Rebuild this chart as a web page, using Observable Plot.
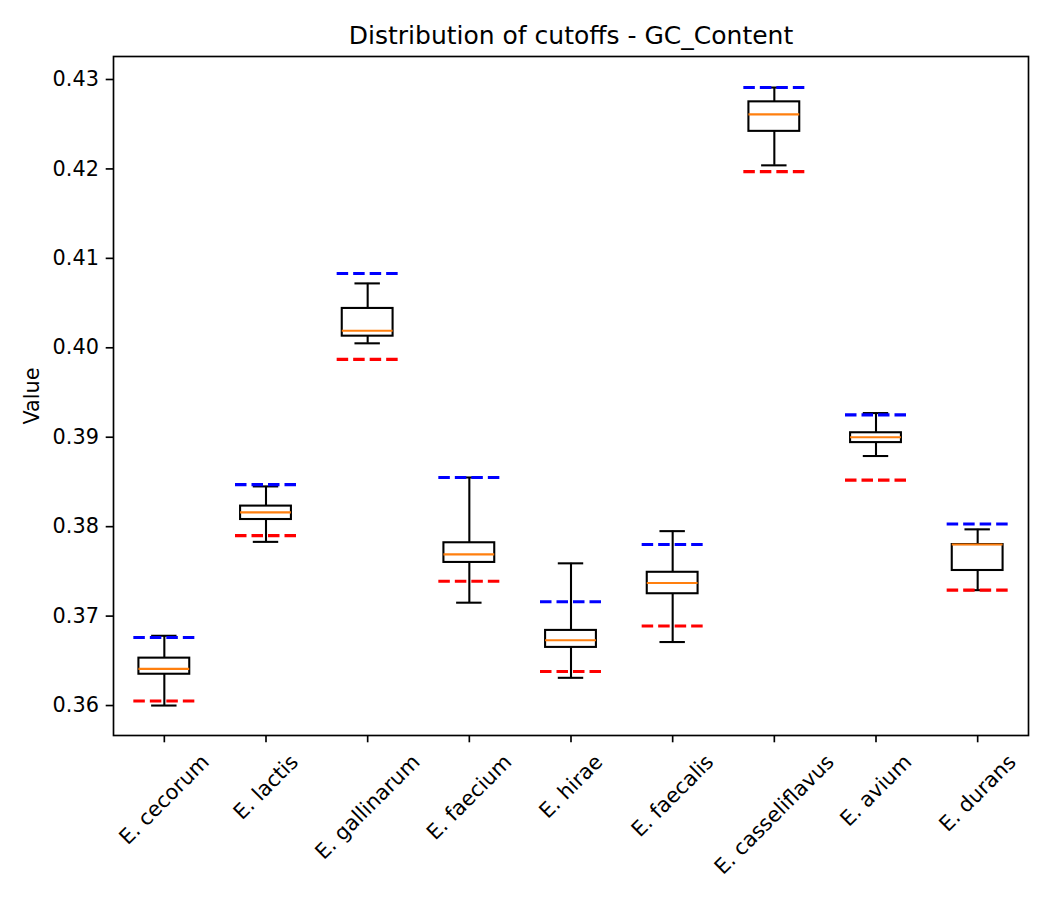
<!DOCTYPE html>
<html><head><meta charset="utf-8">
<script src="https://cdn.jsdelivr.net/npm/d3@7"></script>
<script src="https://cdn.jsdelivr.net/npm/@observablehq/plot@0.6"></script>
<style>body{margin:0;background:#fff;} svg{display:block}</style>
</head><body><div id="chart"></div>
<script>
const categories = ["E. cecorum","E. lactis","E. gallinarum","E. faecium","E. hirae","E. faecalis","E. casseliflavus","E. avium","E. durans"];
const whiskerLow  = [0.3600, 0.3783, 0.4005, 0.3715, 0.3631, 0.3671, 0.4204, 0.3879, 0.3729];
const q1          = [0.3635, 0.3808, 0.4013, 0.3760, 0.3665, 0.3725, 0.4242, 0.3894, 0.3751];
const medians     = [0.3641, 0.3816, 0.4019, 0.3769, 0.3673, 0.3737, 0.4261, 0.3900, 0.3780];
const q3          = [0.3653, 0.3823, 0.4044, 0.3782, 0.3684, 0.3749, 0.4275, 0.3905, 0.3780];
const whiskerHigh = [0.3678, 0.3845, 0.4072, 0.3855, 0.3759, 0.3795, 0.4291, 0.3927, 0.3797];
const upperCutoff = [0.3676, 0.3847, 0.4083, 0.3855, 0.3716, 0.3780, 0.4291, 0.3925, 0.3803];
const lowerCutoff = [0.3605, 0.3790, 0.3987, 0.3739, 0.3638, 0.3689, 0.4197, 0.3852, 0.3729];
const yTicks = [0.36, 0.37, 0.38, 0.39, 0.40, 0.41, 0.42, 0.43];
const titleText = "Distribution of cutoffs - GC_Content";
const yLabel = "Value";

const FS = 20.8;
const ctx = document.createElement("canvas").getContext("2d");
ctx.font = `${FS}px "DejaVu Sans"`;

const rows = categories.map((name, i) => ({
  name, pos: i + 1,
  lo: whiskerLow[i], q1: q1[i], median: medians[i], q3: q3[i], hi: whiskerHigh[i],
  upper: upperCutoff[i], lower: lowerCutoff[i]
}));

const LW = 2.08;
const labelMarks = categories.map((c, i) => {
  const w = ctx.measureText(c).width;
  const h = 24;
  const bb = (w + h) * Math.SQRT1_2;
  return Plot.text([c], {
    x: () => i + 1, frameAnchor: "bottom", dy: 14.6 + bb / 2,
    rotate: -45, textAnchor: "middle", lineAnchor: "middle",
    fontSize: FS, fill: "black"
  });
});

const plot = Plot.plot({
  width: 1050, height: 900,
  marginTop: 56, marginLeft: 113, marginRight: 22, marginBottom: 165,
  style: {fontFamily: "DejaVu Sans", fontSize: FS + "px", background: "white", color: "black"},
  x: {domain: [0.5, 9.5], axis: null},
  y: {domain: [0.35665, 0.43257], axis: null},
  marks: [
    Plot.axisY({ticks: yTicks, tickFormat: d3.format(".2f"), tickSize: 7.3, tickPadding: 7.3, label: null, fontSize: FS, strokeWidth: 1.67}),
    Plot.axisX({ticks: rows.map(d => d.pos), tickFormat: () => "", tickSize: 7.3, label: null, strokeWidth: 1.67}),
    Plot.ruleX(rows, {x: "pos", y1: "q3", y2: "hi", stroke: "black", strokeWidth: LW}),
    Plot.ruleX(rows, {x: "pos", y1: "lo", y2: "q1", stroke: "black", strokeWidth: LW}),
    Plot.ruleY(rows, {y: "hi", x1: d => d.pos - 0.125, x2: d => d.pos + 0.125, stroke: "black", strokeWidth: LW}),
    Plot.ruleY(rows, {y: "lo", x1: d => d.pos - 0.125, x2: d => d.pos + 0.125, stroke: "black", strokeWidth: LW}),
    Plot.rect(rows, {x1: d => d.pos - 0.25, x2: d => d.pos + 0.25, y1: "q1", y2: "q3", fill: "white", stroke: "black", strokeWidth: LW}),
    Plot.ruleY(rows, {y: "median", x1: d => d.pos - 0.25, x2: d => d.pos + 0.25, stroke: "#ff7f0e", strokeWidth: LW}),
    Plot.ruleY(rows, {y: "upper", x1: d => d.pos - 0.3, x2: d => d.pos + 0.3, stroke: "blue", strokeWidth: 3.1, strokeDasharray: "11.5,5"}),
    Plot.ruleY(rows, {y: "lower", x1: d => d.pos - 0.3, x2: d => d.pos + 0.3, stroke: "red", strokeWidth: 3.1, strokeDasharray: "11.5,5"}),
    Plot.frame({stroke: "black", strokeWidth: 1.67}),
    Plot.text([titleText], {frameAnchor: "top", dy: -12.5, lineAnchor: "bottom", fontSize: 25, fill: "black"}),
    Plot.text([yLabel], {frameAnchor: "left", dx: -81, rotate: -90, textAnchor: "middle", lineAnchor: "middle", fontSize: FS, fill: "black"}),
    ...labelMarks
  ]
});
document.getElementById("chart").appendChild(plot);
</script>
</body></html>
